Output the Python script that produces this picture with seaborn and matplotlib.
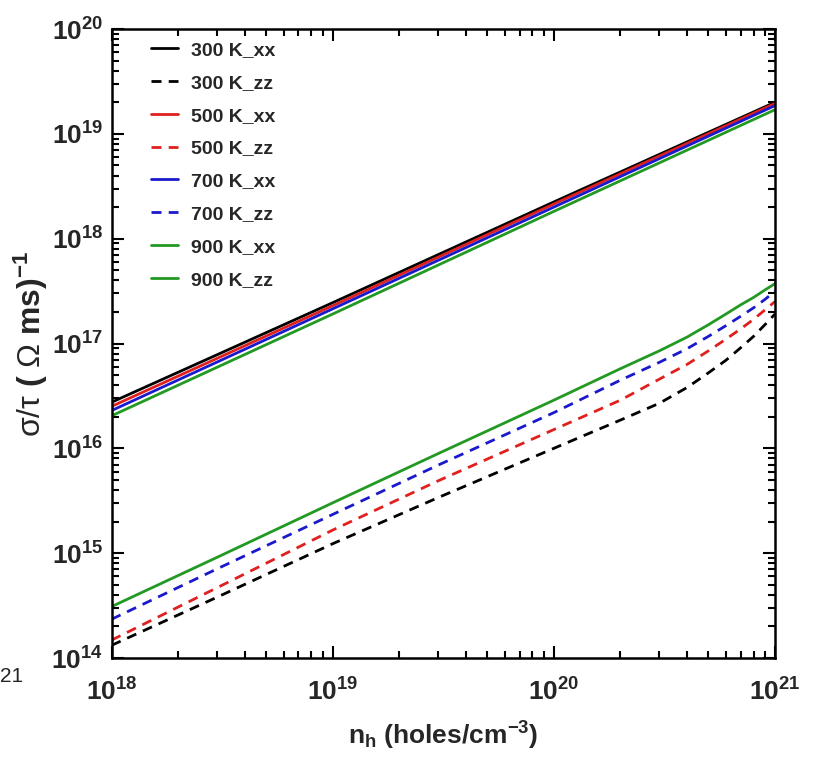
import matplotlib
matplotlib.use("Agg")
import matplotlib.pyplot as plt
from matplotlib import font_manager
from matplotlib.ticker import FixedLocator, NullFormatter, LogLocator
import numpy as np
import pandas as pd
import seaborn as sns

# ---------------- data ----------------
n_h_xx = [1e18, 1e19, 1e20, 1e21]
sig_300_xx = [2.75e16, 2.45e17, 2.24e18, 2.00e19]
sig_500_xx = [2.51e16, 2.29e17, 2.14e18, 1.95e19]
sig_700_xx = [2.29e16, 2.14e17, 2.00e18, 1.86e19]
sig_900_xx = [2.04e16, 1.91e17, 1.82e18, 1.70e19]

n_h_zz = [1e18, 3e18, 1e19, 3e19, 1e20, 2e20, 3e20, 4e20, 5e20, 6e20, 7e20, 8e20, 9e20, 1e21]
sig_300_zz = [1.32e14, 3.80e14, 1.23e15, 3.39e15, 1.00e16, 1.86e16, 2.69e16, 3.80e16,
              5.25e16, 6.92e16, 9.12e16, 1.17e17, 1.51e17, 1.91e17]
sig_500_zz = [1.48e14, 4.68e14, 1.66e15, 4.90e15, 1.51e16, 2.88e16, 4.57e16, 6.31e16,
              8.51e16, 1.10e17, 1.38e17, 1.70e17, 2.09e17, 2.51e17]
sig_700_zz = [2.34e14, 7.08e14, 2.34e15, 6.92e15, 2.19e16, 4.47e16, 6.61e16, 8.91e16,
              1.17e17, 1.48e17, 1.82e17, 2.19e17, 2.63e17, 3.16e17]
sig_900_zz = [3.09e14, 9.12e14, 3.02e15, 8.91e15, 2.88e16, 5.75e16, 8.51e16, 1.15e17,
              1.51e17, 1.91e17, 2.34e17, 2.75e17, 3.24e17, 3.72e17]

series_labels = ["300 K_xx", "300 K_zz", "500 K_xx", "500 K_zz",
                 "700 K_xx", "700 K_zz", "900 K_xx", "900 K_zz"]
series_x = [n_h_xx, n_h_zz, n_h_xx, n_h_zz, n_h_xx, n_h_zz, n_h_xx, n_h_zz]
series_y = [sig_300_xx, sig_300_zz, sig_500_xx, sig_500_zz,
            sig_700_xx, sig_700_zz, sig_900_xx, sig_900_zz]
series_dashed = [False, True, False, True, False, True, False, False]

x_ticks = [1e18, 1e19, 1e20, 1e21]
x_tick_labels = ["18", "19", "20", "21"]
y_ticks = [1e14, 1e15, 1e16, 1e17, 1e18, 1e19, 1e20]
y_tick_labels = ["14", "15", "16", "17", "18", "19", "20"]

# ---------------- style ----------------
sns.set_theme(style="ticks")
names = {f.name for f in font_manager.fontManager.ttflist}
FONT = "Liberation Sans Narrow" if "Liberation Sans Narrow" in names else "Liberation Sans"
plt.rcParams["font.family"] = [FONT, "DejaVu Sans"]
plt.rcParams["mathtext.fontset"] = "custom"
plt.rcParams["mathtext.rm"] = FONT
plt.rcParams["mathtext.bf"] = FONT + ":bold"
plt.rcParams["mathtext.it"] = FONT + ":italic"

colors = {"300": "#000000", "500": "#e0201e", "700": "#1a1acc", "900": "#229922"}

fig = plt.figure(figsize=(8.18, 7.74), dpi=100)
ax = fig.add_axes([111.5 / 818, 1 - 658 / 774, (775 - 111.5) / 818, (658 - 29) / 774])

for lab, xs, ys, dashed in zip(series_labels, series_x, series_y, series_dashed):
    df = pd.DataFrame({"n_h": xs, "sigma": ys})
    ls = (0, (3.6, 2.6)) if dashed else "-"
    sns.lineplot(data=df, x="n_h", y="sigma", ax=ax, color=colors[lab[:3]],
                 linewidth=2.0, linestyle=ls, label=lab, sort=False,
                 estimator=None)

ax.set_xscale("log")
ax.set_yscale("log")
ax.set_xlim(1e18, 1e21)
ax.set_ylim(1e14, 1e20)

ax.xaxis.set_major_locator(FixedLocator(x_ticks))
ax.yaxis.set_major_locator(FixedLocator(y_ticks))
ax.set_xticklabels([r"$\mathbf{10^{%s}}$" % t for t in x_tick_labels], fontsize=19)
ax.set_yticklabels([r"$\mathbf{10^{%s}}$" % t for t in y_tick_labels], fontsize=19)
ax.xaxis.set_minor_locator(LogLocator(base=10, subs=np.arange(2, 10)))
ax.yaxis.set_minor_locator(LogLocator(base=10, subs=np.arange(2, 10)))
ax.xaxis.set_minor_formatter(NullFormatter())
ax.yaxis.set_minor_formatter(NullFormatter())

ax.tick_params(which="both", direction="in", top=True, right=True, width=1.5, color="black")
ax.tick_params(which="major", length=8.5)
ax.tick_params(which="minor", length=5)
ax.tick_params(axis="x", which="major", pad=15)
ax.tick_params(axis="y", which="major", pad=6)
for s in ax.spines.values():
    s.set_linewidth(1.8)
    s.set_color("black")

ax.set_xlabel(r"n$_\mathbf{h}$ (holes/cm$^\mathbf{-3}$)", fontsize=19, fontweight="bold", labelpad=10)
ax.set_ylabel(r"$\mathrm{σ/τ}$ ( $\mathrm{Ω}$ ms)$^\mathbf{-1}$", fontsize=23, fontweight="bold", labelpad=1)

leg = ax.legend(loc="upper left", bbox_to_anchor=(0.060, 0.980), frameon=False,
                prop={"weight": "bold", "size": 14},
                handlelength=1.35, handletextpad=0.7, labelspacing=0.78,
                borderpad=0, borderaxespad=0)

fig.text(0.0, 1 - 682 / 774, "21", fontsize=15, ha="left", va="baseline")

fig.savefig("out.png", dpi=100)
